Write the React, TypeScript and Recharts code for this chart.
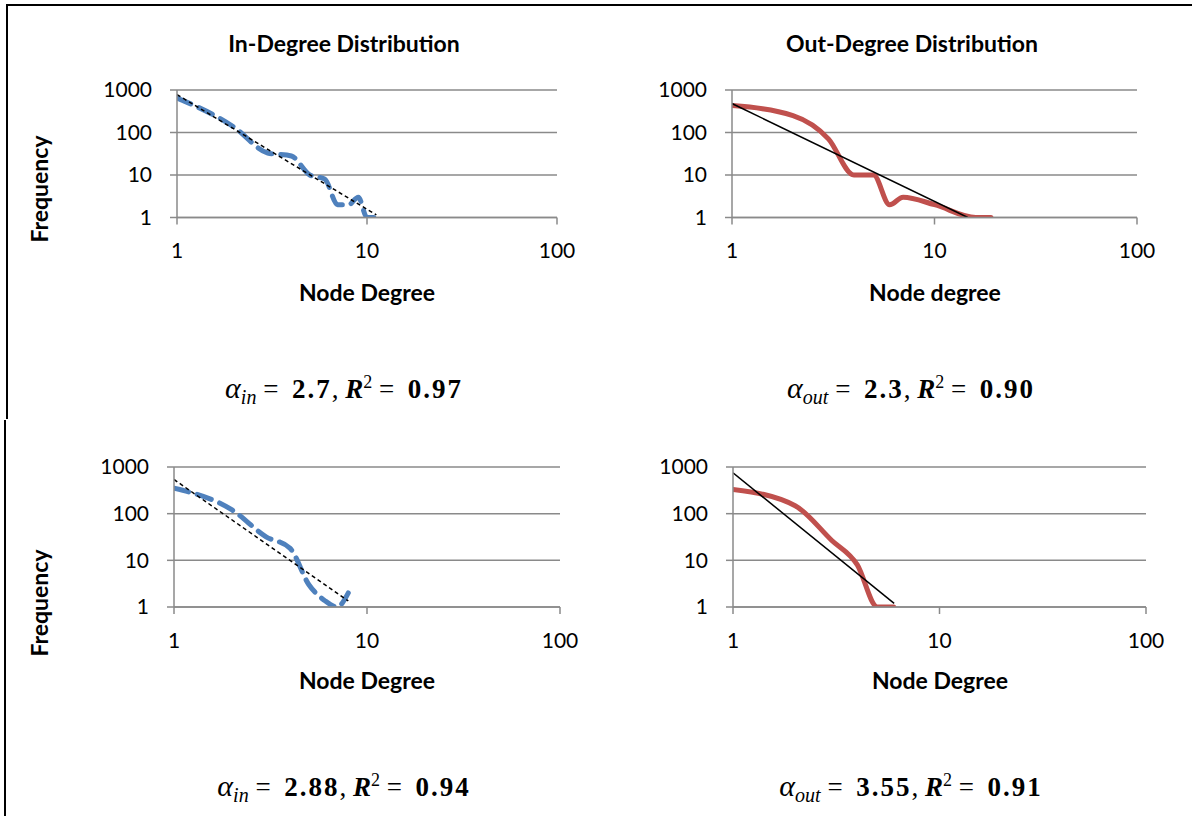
import React from 'react';
import { ComposedChart, Line, XAxis, YAxis, CartesianGrid } from 'recharts';

// degree / frequency pairs
const inDegTop = [1, 2, 3, 4, 5, 6, 7, 8, 9, 10, 11];
const inFreqTop = [650, 133, 33, 28, 10, 8, 2, 2, 3, 1, 1];
const outDegTop = [1, 2, 3, 4, 5, 6, 7, 10, 16, 19];
const outFreqTop = [430, 250, 70, 10, 10, 2, 3, 2, 1, 1];
const inDegBottom = [1, 2, 3, 4, 5, 6, 7, 8];
const inFreqBottom = [350, 120, 32, 18, 3, 1.4, 1, 2];
const outDegBottom = [1, 2, 3, 4, 5, 6];
const outFreqBottom = [330, 148, 27, 8, 1, 1];

// power-law fit lines: [degree, frequency] at both ends
const inFitTop = [[1, 780], [11.2, 1.15]];
const outFitTop = [[1, 480], [14.6, 1]];
const inFitBottom = [[1, 540], [8, 1.35]];
const outFitBottom = [[1, 750], [6.03, 1.2]];

const xTicks = [1, 10, 100];
const yTicks = [1, 10, 100, 1000];

const FONT = 'Lato, "Open Sans", sans-serif';
const MATH = '"Liberation Serif", "DejaVu Serif", serif';
const GRID = '#8a8a8a';
const BLUE = '#4f81bd';
const RED = '#c0504d';

const toPoints = (xs: number[], ys: number[]) => xs.map((x, i) => ({ x, y: ys[i] }));
const fitPoints = (f: number[][]) => f.map(([x, y]) => ({ x, y }));

interface PanelProps {
  left: number;
  top: number;
  width: number;
  height: number;
  series: { x: number; y: number }[];
  fit: { x: number; y: number }[];
  color: string;
  dashed: boolean;
}

function Panel({ left, top, width, height, series, fit, color, dashed }: PanelProps) {
  const padL = 100, padT = 20, padR = 30, padB = 50;
  const tick = { fill: '#000', fontSize: 21, fontFamily: FONT };
  return (
    <div style={{ position: 'absolute', left: left - padL, top: top - padT }}>
      <ComposedChart
        width={width + padL + padR}
        height={height + padT + padB}
        margin={{ top: padT, right: padR, bottom: 0, left: 0 }}
      >
        <CartesianGrid vertical={false} stroke={GRID} strokeWidth={1.5} />
        <XAxis
          dataKey="x"
          type="number"
          scale="log"
          domain={[1, 100]}
          ticks={xTicks}
          allowDataOverflow
          height={padB}
          tickSize={7}
          tickMargin={19}
          tick={tick}
          stroke={GRID}
          strokeWidth={1.5}
        />
        <YAxis
          type="number"
          scale="log"
          domain={[1, 1000]}
          ticks={yTicks}
          allowDataOverflow
          width={padL}
          tickSize={7}
          tickMargin={18}
          tick={tick}
          stroke={GRID}
          strokeWidth={1.5}
        />
        <Line
          data={series}
          dataKey="y"
          type="monotone"
          stroke={color}
          strokeWidth={5}
          strokeDasharray={dashed ? '15 9' : undefined}
          strokeLinecap="round"
          dot={false}
          isAnimationActive={false}
        />
        <Line
          data={fit}
          dataKey="y"
          type="linear"
          stroke="#000"
          strokeWidth={1.5}
          strokeDasharray={dashed ? '4 3' : undefined}
          dot={false}
          isAnimationActive={false}
        />
      </ComposedChart>
    </div>
  );
}

function Text({ x, y, size, bold, rotate, children }: any) {
  return (
    <div
      style={{
        position: 'absolute',
        left: x,
        top: y,
        transform: `translate(-50%, -50%)${rotate ? ' rotate(-90deg)' : ''}`,
        fontFamily: FONT,
        fontSize: size,
        fontWeight: bold ? 700 : 400,
        whiteSpace: 'nowrap',
        color: '#000',
      }}
    >
      {children}
    </div>
  );
}

function Formula({ x, y, sub, alpha, r2 }: any) {
  return (
    <div
      style={{
        position: 'absolute',
        left: x,
        top: y,
        transform: 'translate(-50%, -50%)',
        fontFamily: MATH,
        fontSize: 27,
        whiteSpace: 'pre',
        color: '#000',
      }}
    >
      <i style={{ fontSize: 30 }}>α</i>
      <sub style={{ fontSize: 20, fontStyle: 'italic' }}>{sub}</sub>
      {' =  '}
      <b style={{ letterSpacing: 2 }}>{alpha}</b>
      {', '}
      <b><i>R</i></b>
      <sup style={{ fontSize: 18 }}>2</sup>
      {' =  '}
      <b style={{ letterSpacing: 2 }}>{r2}</b>
    </div>
  );
}

export default function App() {
  return (
    <div style={{ position: 'absolute', left: 0, top: 0, width: 1192, height: 816, background: '#fff' }}>
      {/* page frame */}
      <div style={{ position: 'absolute', left: 6, top: 4, width: 1186, height: 2, background: '#000' }} />
      <div style={{ position: 'absolute', left: 6, top: 4, width: 2, height: 415, background: '#000' }} />
      <div style={{ position: 'absolute', left: 4, top: 420, width: 2, height: 396, background: '#000' }} />

      <Panel left={177} top={90} width={380} height={127.5}
        series={toPoints(inDegTop, inFreqTop)} fit={fitPoints(inFitTop)} color={BLUE} dashed />
      <Panel left={732} top={90} width={405} height={127.5}
        series={toPoints(outDegTop, outFreqTop)} fit={fitPoints(outFitTop)} color={RED} dashed={false} />
      <Panel left={174} top={467} width={386} height={140}
        series={toPoints(inDegBottom, inFreqBottom)} fit={fitPoints(inFitBottom)} color={BLUE} dashed />
      <Panel left={733} top={467} width={413} height={140}
        series={toPoints(outDegBottom, outFreqBottom)} fit={fitPoints(outFitBottom)} color={RED} dashed={false} />

      <Text x={344} y={43} size={23} bold>In-Degree Distribution</Text>
      <Text x={912} y={43} size={23} bold>Out-Degree Distribution</Text>

      <Text x={367} y={292} size={23} bold>Node Degree</Text>
      <Text x={935} y={292} size={23} bold>Node degree</Text>
      <Text x={367} y={680} size={23} bold>Node Degree</Text>
      <Text x={940} y={680} size={23} bold>Node Degree</Text>

      <Text x={39} y={189} size={23} bold rotate>Frequency</Text>
      <Text x={39} y={603} size={23} bold rotate>Frequency</Text>

      <Formula x={344} y={390} sub="in" alpha="2.7" r2="0.97" />
      <Formula x={911} y={390} sub="out" alpha="2.3" r2="0.90" />
      <Formula x={344} y={788} sub="in" alpha="2.88" r2="0.94" />
      <Formula x={911} y={788} sub="out" alpha="3.55" r2="0.91" />
    </div>
  );
}
